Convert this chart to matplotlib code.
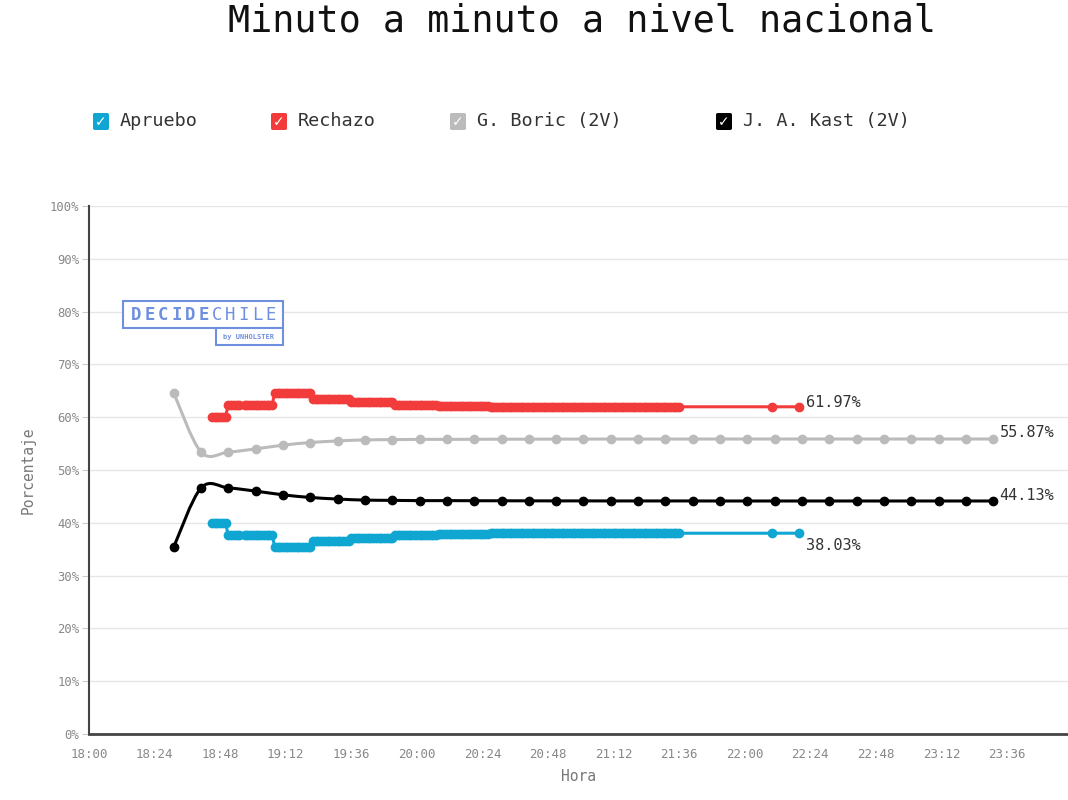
import matplotlib
matplotlib.use("Agg")

import matplotlib.pyplot as plt
import numpy as np
from matplotlib.path import Path
from matplotlib.patches import PathPatch, FancyBboxPatch, Rectangle


plt.rcParams["font.family"] = ["DejaVu Sans Mono", "DejaVu Sans"]

TITLE = "Minuto a minuto a nivel nacional"

SERIES_NAMES = ["Apruebo", "Rechazo", "G. Boric (2V)", "J. A. Kast (2V)"]
SERIES_COLORS = ["#10a6d2", "#f23c3c", "#bbbbbb", "#000000"]

X_TICK_LABELS = ["18:00", "18:24", "18:48", "19:12", "19:36", "20:00", "20:24", "20:48",
                 "21:12", "21:36", "22:00", "22:24", "22:48", "23:12", "23:36"]
Y_TICKS = [0, 10, 20, 30, 40, 50, 60, 70, 80, 90, 100]

# segunda vuelta: un punto cada 10 minutos
SEGUNDA_HORAS = ["18:31", "18:41", "18:51", "19:01", "19:11", "19:21", "19:31", "19:41",
                 "19:51", "20:01", "20:11", "20:21", "20:31", "20:41", "20:51", "21:01",
                 "21:11", "21:21", "21:31", "21:41", "21:51", "22:01", "22:11", "22:21",
                 "22:31", "22:41", "22:51", "23:01", "23:11", "23:21", "23:31"]
BORIC = [64.6, 53.4, 53.4, 54.0, 54.7, 55.2, 55.5, 55.7, 55.75, 55.8, 55.8, 55.82, 55.83,
         55.84, 55.85, 55.85, 55.86, 55.86, 55.86, 55.86, 55.87, 55.87, 55.87, 55.87, 55.87,
         55.87, 55.87, 55.87, 55.87, 55.87, 55.87]
KAST = [35.4, 46.6, 46.6, 46.0, 45.3, 44.8, 44.5, 44.3, 44.25, 44.2, 44.2, 44.18, 44.17,
        44.16, 44.15, 44.15, 44.14, 44.14, 44.14, 44.14, 44.13, 44.13, 44.13, 44.13, 44.13,
        44.13, 44.13, 44.13, 44.13, 44.13, 44.13]

# plebiscito: minuto a minuto, el valor se mantiene en cada tramo
PLEB_DESDE = ["18:45", "18:51", "18:57", "19:08", "19:22", "19:36", "19:52", "20:08", "20:27"]
PLEB_HASTA = ["18:50", "18:55", "19:07", "19:21", "19:35", "19:51", "20:07", "20:26", "21:36"]
RECHAZO_TRAMOS = [60.1, 62.4, 62.3, 64.6, 63.4, 62.8, 62.3, 62.05, 61.98]
APRUEBO_TRAMOS = [39.9, 37.6, 37.7, 35.4, 36.6, 37.2, 37.7, 37.95, 38.02]
PLEB_FINAL_HORAS = ["22:10", "22:20"]
RECHAZO_FINAL = [61.97, 61.97]
APRUEBO_FINAL = [38.03, 38.03]


def minutos(hhmm):
    h, m = hhmm.split(":")
    return (int(h) - 18) * 60 + int(m)


def serie_minuto(tramos, final):
    t, v = [], []
    for a, b, val in zip(PLEB_DESDE, PLEB_HASTA, tramos):
        mins = np.arange(minutos(a), minutos(b) + 1)
        t.append(mins)
        v.append(np.full(len(mins), val))
    t.append(np.array([minutos(h) for h in PLEB_FINAL_HORAS]))
    v.append(np.array(final))
    return np.concatenate(t), np.concatenate(v)


def curva_suave(ax, x, y, color, lw):
    # catmull-rom pasado a segmentos bezier cubicos
    p = np.column_stack([x, y]).astype(float)
    ext = np.vstack([p[0], p, p[-1]])
    verts = [p[0]]
    codes = [Path.MOVETO]
    for i in range(1, len(ext) - 2):
        p0, p1, p2, p3 = ext[i - 1], ext[i], ext[i + 1], ext[i + 2]
        verts += [p1 + (p2 - p0) / 6, p2 - (p3 - p1) / 6, p2]
        codes += [Path.CURVE4] * 3
    ax.add_patch(PathPatch(Path(verts, codes), fill=False, edgecolor=color, linewidth=lw,
                           capstyle="round", joinstyle="round", zorder=3))


fig = plt.figure(figsize=(10.68, 8.0), dpi=100)
W, H = 1068.0, 800.0
ax = fig.add_axes([89 / W, 1 - 734 / H, 1 - 89 / W, (734 - 206) / H])

t_seg = [minutos(h) for h in SEGUNDA_HORAS]
t_rec, v_rec = serie_minuto(RECHAZO_TRAMOS, RECHAZO_FINAL)
t_apr, v_apr = serie_minuto(APRUEBO_TRAMOS, APRUEBO_FINAL)

ax.plot(t_apr, v_apr, "-o", color=SERIES_COLORS[0], lw=2.2, ms=6, zorder=3)
ax.plot(t_rec, v_rec, "-o", color=SERIES_COLORS[1], lw=2.2, ms=6, zorder=3)
curva_suave(ax, t_seg, BORIC, SERIES_COLORS[2], 2.2)
ax.plot(t_seg, BORIC, "o", color=SERIES_COLORS[2], ms=6, zorder=4)
curva_suave(ax, t_seg, KAST, SERIES_COLORS[3], 2.2)
ax.plot(t_seg, KAST, "o", color=SERIES_COLORS[3], ms=6, zorder=4)

# etiquetas finales
finales = [(t_rec[-1], v_rec[-1], (4.5, 3)), (t_seg[-1], BORIC[-1], (4.5, 4.5)),
           (t_seg[-1], KAST[-1], (4.5, 4)), (t_apr[-1], v_apr[-1], (4.5, -8.5))]
for x, y, off in finales:
    ax.annotate(f"{y:.2f}%", (x, y), xytext=off, textcoords="offset points",
                ha="left", va="center", fontsize=11, color="#333333")

ax.set_xlim(0, (1068 - 89) / 2.732)
ax.set_ylim(0, 100)
ax.set_xticks([minutos(s) for s in X_TICK_LABELS])
ax.set_xticklabels(X_TICK_LABELS)
ax.set_yticks(Y_TICKS)
ax.set_yticklabels([f"{v}%" for v in Y_TICKS])
ax.tick_params(axis="x", length=0, pad=10, labelsize=9, labelcolor="#888888")
ax.tick_params(axis="y", length=5, width=0.8, color="#cccccc", pad=2, labelsize=8.8,
               labelcolor="#888888")
ax.grid(axis="y", color="#e6e6e6", linewidth=1)
ax.set_axisbelow(True)
for s in ["top", "right"]:
    ax.spines[s].set_visible(False)
ax.spines["left"].set_color("#444444")
ax.spines["left"].set_linewidth(1.5)
ax.spines["bottom"].set_color("#444444")
ax.spines["bottom"].set_linewidth(2)
ax.set_xlabel("Hora", fontsize=10.5, color="#777777", labelpad=6)
ax.set_ylabel("Porcentaje", fontsize=10.5, color="#777777", labelpad=10)

# titulo
fig.text(582 / W, 1 - 31 / H, TITLE, ha="center", va="baseline", fontsize=26.5, color="#111111")

# leyenda con casillas marcadas
box_x = [93, 271, 450, 716]
for name, color, bx in zip(SERIES_NAMES, SERIES_COLORS, box_x):
    fig.add_artist(FancyBboxPatch((bx / W, 1 - 130 / H), 16 / W, 17 / H,
                                  boxstyle="round,pad=0,rounding_size=0.002",
                                  transform=fig.transFigure, facecolor=color, edgecolor="none"))
    fig.text((bx + 8) / W, 1 - 122 / H, "\u2713", ha="center", va="center", fontsize=10,
             color="white", fontweight="bold", family=["DejaVu Sans"])
    fig.text((bx + 27) / W, 1 - 121 / H, name, ha="left", va="center", fontsize=13.3,
             color="#333333")

# logo
logo = "#6f8fdf"
fig.add_artist(Rectangle((123 / W, 1 - 328 / H), 160 / W, 27 / H, transform=fig.transFigure,
                         facecolor="white", edgecolor=logo, linewidth=1.5, zorder=5))
fig.add_artist(Rectangle((216 / W, 1 - 345 / H), 67 / W, 17 / H, transform=fig.transFigure,
                         facecolor="white", edgecolor=logo, linewidth=1.5, zorder=5))
for i, ch in enumerate("DECIDECHILE"):
    fig.text((136 + 13.5 * i) / W, 1 - 315 / H, ch, ha="center", va="center", fontsize=12.5,
             color=logo, fontweight="bold" if i < 6 else "normal", zorder=6)
fig.text(249 / W, 1 - 337 / H, "by UNHOLSTER", ha="center", va="center", fontsize=5,
         color=logo, fontweight="bold", zorder=6)

fig.savefig("out.png", dpi=100)
